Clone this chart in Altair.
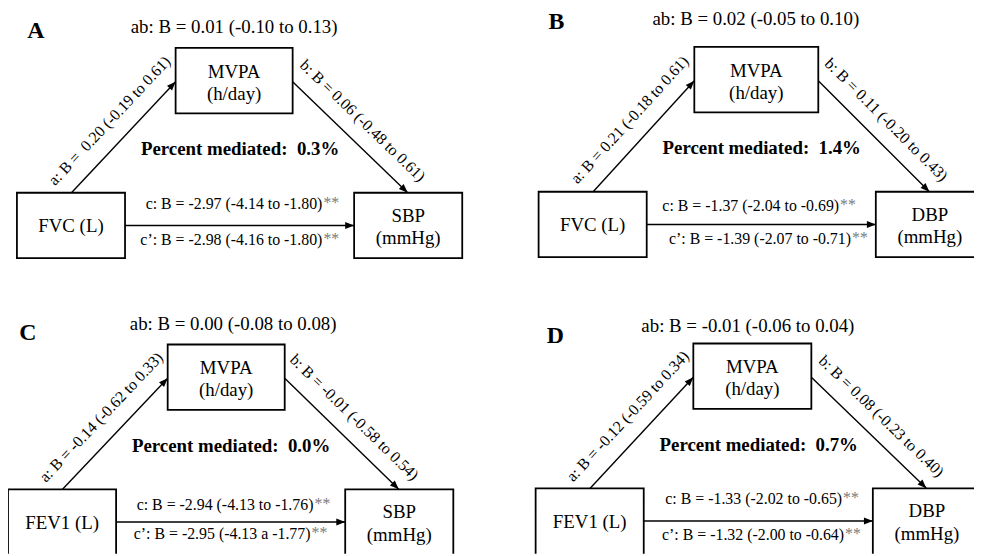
import math
import altair as alt
import pandas as pd

# ---------------- data (text content of the four mediation diagrams) ----------------
NB = "\u00a0"
panels = ["A", "B", "C", "D"]
exposures = ["FVC (L)", "FVC (L)", "FEV1 (L)", "FEV1 (L)"]
outcomes = ["SBP", "DBP", "SBP", "DBP"]
outcome_unit = "(mmHg)"
mediator = "MVPA"
mediator_unit = "(h/day)"
ab_text = ["ab: B = 0.01 (-0.10 to 0.13)", "ab: B = 0.02 (-0.05 to 0.10)",
           "ab: B = 0.00 (-0.08 to 0.08)", "ab: B = -0.01 (-0.06 to 0.04)"]
a_text = ["a: B =" + NB + " 0.20 (-0.19 to 0.61)", "a: B = 0.21 (-0.18 to 0.61)",
          "a: B = -0.14 (-0.62 to 0.33)", "a: B = -0.12 (-0.59 to 0.34)"]
b_text = ["b: B = 0.06 (-0.48 to 0.61)", "b: B = 0.11 (-0.20 to 0.43)",
          "b: B = -0.01 (-0.58 to 0.54)", "b: B = 0.08 (-0.23 to 0.40)"]
c_text = ["c: B = -2.97 (-4.14 to -1.80)", "c: B = -1.37 (-2.04 to -0.69)",
          "c: B = -2.94 (-4.13 to -1.76)", "c: B = -1.33 (-2.02 to -0.65)"]
cp_text = ["c\u2019: B = -2.98 (-4.16 to -1.80)", "c\u2019: B = -1.39 (-2.07 to -0.71)",
           "c\u2019: B = -2.95 (-4.13 a -1.77)", "c\u2019: B = -1.32 (-2.00 to -0.64)"]
stars = "**"
pct_label = "Percent mediated:" + NB + " "
pct_text = ["0.3%", "1.4%", "0.0%", "0.7%"]

# ---------------- layout (pixel space of the figure) ----------------
offsets = [(0, 0), (526, -1), (-9, 299), (523, 298)]
med_box = [(177, 295), (174, 299), (178, 296), (176, 295)]   # x-extent of mediator box (template coords)
med_y = (46, 112)
exp_box = (17, 126, 192, 258)
out_box = (357, 466, 192, 258)
arrow_c_y = 225
a_start = (72, 192)
a_end_y = 80
b_end = (411, 192)
letter_pos = [(36, 29), (561, 20), (28, 333), (560, 337)]
ab_pos = [(236, 25), (762, 17), (235, 324), (754, 326)]
c_pos = [(325, 203), (846, 205), (316, 507), (849, 501)]
cp_pos = [(325, 240), (858, 239), (313, 536), (851, 537)]
pct_pos = (242, 148)

rects, rules, heads = [], [], []
t19, bold19, bold24, rot, right16, star16 = [], [], [], [], [], []


def head(x1, y1, x2, y2):
    ang = math.degrees(math.atan2(x2 - x1, -(y2 - y1))) % 360
    heads.append(dict(x=x2, y=y2, angle=ang))


for i, p in enumerate(panels):
    dx, dy = offsets[i]
    mx1, mx2 = med_box[i][0] + dx, med_box[i][1] + dx
    my1, my2 = med_y[0] + dy, med_y[1] + dy
    ex1, ex2, ey1, ey2 = exp_box[0] + dx, exp_box[1] + dx, exp_box[2] + dy, exp_box[3] + dy
    ox1, ox2, oy1, oy2 = out_box[0] + dx, out_box[1] + dx, out_box[2] + dy, out_box[3] + dy
    ocx = (ox1 + ox2) / 2
    if p in ("B", "D"):
        ox2 = 1000  # box runs off the right edge
    if p in ("C", "D"):
        ey2 = oy2 = 600  # boxes run off the bottom edge
    for (x1, x2, y1, y2) in [(mx1, mx2, my1, my2), (ex1, ex2, ey1, ey2), (ox1, ox2, oy1, oy2)]:
        rects.append(dict(x=x1, x2=x2, y=y1, y2=y2))

    # arrows
    ax1, ay1 = a_start[0] + dx, a_start[1] + dy
    ax2, ay2 = mx1, a_end_y + dy
    bx1, by1 = mx2, a_end_y + dy
    bx2, by2 = b_end[0] + dx, b_end[1] + dy
    cx1, cx2, cy = ex2, ox1, arrow_c_y + dy
    for (x1, y1, x2, y2) in [(ax1, ay1, ax2, ay2), (bx1, by1, bx2, by2), (cx1, cy, cx2, cy)]:
        rules.append(dict(x=x1, y=y1, x2=x2, y2=y2))
        head(x1, y1, x2, y2)

    # box texts
    mcx = (mx1 + mx2) / 2
    t19.append(dict(x=mcx, y=my1 + 24, text=mediator))
    t19.append(dict(x=mcx, y=my1 + 46, text=mediator_unit))
    t19.append(dict(x=(ex1 + ex2) / 2, y=ey1 + 34, text=exposures[i]))
    t19.append(dict(x=ocx, y=oy1 + 23, text=outcomes[i]))
    t19.append(dict(x=ocx, y=oy1 + 46, text=outcome_unit))

    # other labels
    t19.append(dict(x=ab_pos[i][0], y=ab_pos[i][1], text=ab_text[i]))
    bold19.append(dict(x=pct_pos[0] + dx, y=pct_pos[1] + dy, text=pct_label + pct_text[i]))
    bold24.append(dict(x=letter_pos[i][0], y=letter_pos[i][1], text=p))
    right16.append(dict(x=c_pos[i][0], y=c_pos[i][1], text=c_text[i]))
    right16.append(dict(x=cp_pos[i][0], y=cp_pos[i][1], text=cp_text[i]))
    star16.append(dict(x=c_pos[i][0] + 1, y=c_pos[i][1] - 1, text=stars))
    star16.append(dict(x=cp_pos[i][0] + 1, y=cp_pos[i][1] - 1, text=stars))

    ang_a = math.degrees(math.atan2(ay2 - ay1, ax2 - ax1)) % 360
    ang_b = math.degrees(math.atan2(by2 - by1, bx2 - bx1)) % 360
    rot.append(dict(x=(ax1 + ax2) / 2 - 14, y=(ay1 + ay2) / 2 - 16.5, text=a_text[i], angle=ang_a))
    rot.append(dict(x=(bx1 + bx2) / 2 + 12.5, y=(by1 + by2) / 2 - 16.5, text=b_text[i], angle=ang_b))

XS = alt.Scale(domain=[8, 982], nice=False, zero=False)
YS = alt.Scale(domain=[8, 556], nice=False, zero=False, reverse=True)
FONT = "Liberation Serif"


def X(f="x"):
    return alt.X(f"{f}:Q", scale=XS, axis=None)


def Y(f="y"):
    return alt.Y(f"{f}:Q", scale=YS, axis=None)


box_layer = alt.Chart(pd.DataFrame(rects)).mark_rect(
    fill="white", stroke="black", strokeWidth=1.8, clip=True
).encode(x=X(), x2="x2:Q", y=Y(), y2="y2:Q")

rule_layer = alt.Chart(pd.DataFrame(rules)).mark_rule(
    color="black", strokeWidth=1.4
).encode(x=X(), x2="x2:Q", y=Y(), y2="y2:Q")

head_layer = alt.Chart(pd.DataFrame(heads)).mark_point(
    shape="M0,0L-0.7,1.8L0.7,1.8Z", filled=True, color="black", opacity=1, size=100
).encode(x=X(), y=Y(), angle=alt.Angle("angle:Q", scale=None))


def text_layer(rows, size, weight="normal", align="center", color="black"):
    return alt.Chart(pd.DataFrame(rows)).mark_text(
        font=FONT, fontSize=size, fontWeight=weight, align=align, baseline="middle", color=color
    ).encode(x=X(), y=Y(), text="text:N")


rot_layer = alt.Chart(pd.DataFrame(rot)).mark_text(
    font=FONT, fontSize=16, align="center", baseline="middle", color="black"
).encode(x=X(), y=Y(), text="text:N", angle=alt.Angle("angle:Q", scale=None))

chart = alt.layer(
    box_layer, rule_layer, head_layer,
    text_layer(t19, 19),
    text_layer(bold19, 19, "bold"),
    text_layer(bold24, 24, "bold"),
    text_layer(right16, 16, align="right"),
    text_layer(star16, 16, align="left", color="#7a7a7a"),
    rot_layer,
).properties(
    width=974, height=548, padding=0,
    autosize=alt.AutoSizeParams(type="none"),
    background="white",
).configure_view(stroke=None)

chart.save("out.html", embed_options={"renderer": "svg", "actions": False})
